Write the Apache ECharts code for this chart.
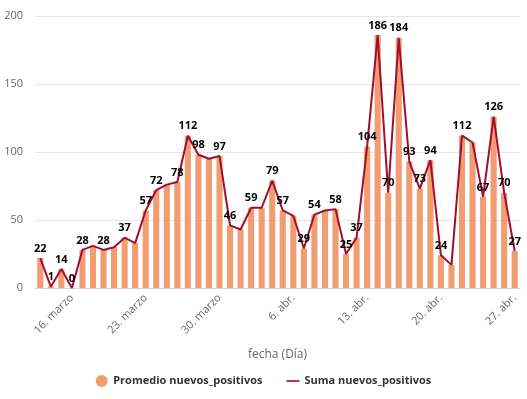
<!DOCTYPE html>
<html>
<head>
<meta charset="utf-8">
<script src="https://cdn.jsdelivr.net/npm/echarts@6/dist/echarts.min.js"></script>
<style>
  html, body { margin: 0; padding: 0; background: #fff; }
  #main { width: 527px; height: 399px; }
</style>
</head>
<body>
<div id="main"></div>
<script>
// dias desde el 13 de marzo hasta el 27 de abril
const fechas = [
  '13. marzo', '14. marzo', '15. marzo', '16. marzo', '17. marzo', '18. marzo', '19. marzo',
  '20. marzo', '21. marzo', '22. marzo', '23. marzo', '24. marzo', '25. marzo', '26. marzo',
  '27. marzo', '28. marzo', '29. marzo', '30. marzo', '31. marzo', '1. abr.', '2. abr.',
  '3. abr.', '4. abr.', '5. abr.', '6. abr.', '7. abr.', '8. abr.', '9. abr.',
  '10. abr.', '11. abr.', '12. abr.', '13. abr.', '14. abr.', '15. abr.', '16. abr.',
  '17. abr.', '18. abr.', '19. abr.', '20. abr.', '21. abr.', '22. abr.', '23. abr.',
  '24. abr.', '25. abr.', '26. abr.', '27. abr.'
]
const promedio = [
  22, 1, 14, 0, 28, 31, 28, 30, 37, 33, 57, 72, 76, 78, 112, 98, 95, 97, 46, 43,
  59, 59, 79, 57, 53, 29, 54, 57, 58, 25, 37, 104, 186, 70, 184, 93, 73, 94, 24, 17,
  112, 107, 67, 126, 70, 27
]
const suma = promedio.slice()
// puntos que llevan etiqueta visible
const etiquetas = [0, 1, 2, 3, 4, 6, 8, 10, 11, 13, 14, 15, 17, 18, 20, 22, 23, 25, 26, 28,
  29, 30, 31, 32, 33, 34, 35, 36, 37, 38, 40, 42, 43, 44, 45]
const yTicks = [0, 50, 100, 150, 200]

const barColor = '#F29C72'
const lineColor = '#A30D2E'

var myChart = echarts.init(document.getElementById('main'))
myChart.setOption({
  animation: false,
  textStyle: { fontFamily: 'Open Sans, sans-serif' },
  grid: { left: 35, right: 7, top: 16, bottom: 111, containLabel: false },
  legend: {
    bottom: 7,
    left: 'center',
    itemGap: 24,
    textStyle: { fontWeight: 'bold', fontSize: 11, color: '#333' },
    data: [
      { name: 'Promedio nuevos_positivos', icon: 'circle', itemStyle: { color: barColor } },
      { name: 'Suma nuevos_positivos', icon: 'path://M0,5 L16,5 L16,7 L0,7 Z', itemStyle: { color: lineColor } }
    ],
    itemWidth: 13,
    itemHeight: 12
  },
  xAxis: {
    type: 'category',
    data: fechas,
    name: 'fecha (Día)',
    nameLocation: 'middle',
    nameGap: 61,
    nameTextStyle: { color: '#666', fontSize: 12 },
    axisLine: { lineStyle: { color: '#ccd6eb' } },
    axisTick: {
      alignWithLabel: true,
      length: 8,
      lineStyle: { color: '#ccd6eb' },
      interval: (i) => (i - 3) % 7 === 0
    },
    axisLabel: {
      rotate: 45,
      color: '#666',
      fontSize: 11,
      margin: 8,
      interval: (i) => (i - 3) % 7 === 0
    }
  },
  yAxis: {
    type: 'value',
    min: yTicks[0],
    max: yTicks[yTicks.length - 1],
    interval: 50,
    axisLine: { show: false },
    axisTick: { show: false },
    axisLabel: { color: '#666', fontSize: 11, margin: 12 },
    splitLine: { lineStyle: { color: '#e6e6e6' } }
  },
  series: [
    {
      name: 'Promedio nuevos_positivos',
      type: 'bar',
      data: promedio,
      barWidth: '58%',
      itemStyle: { color: barColor },
      z: 2
    },
    {
      name: 'Suma nuevos_positivos',
      type: 'line',
      data: suma.map((v, i) => ({
        value: v,
        label: { show: etiquetas.indexOf(i) >= 0 }
      })),
      symbol: 'circle',
      symbolSize: 0.01,
      showSymbol: true,
      lineStyle: { color: lineColor, width: 2 },
      itemStyle: { color: lineColor },
      label: {
        position: 'top',
        distance: 4,
        color: '#000',
        fontWeight: 'bold',
        fontSize: 11
      },
      z: 3
    }
  ]
})
</script>
</body>
</html>
